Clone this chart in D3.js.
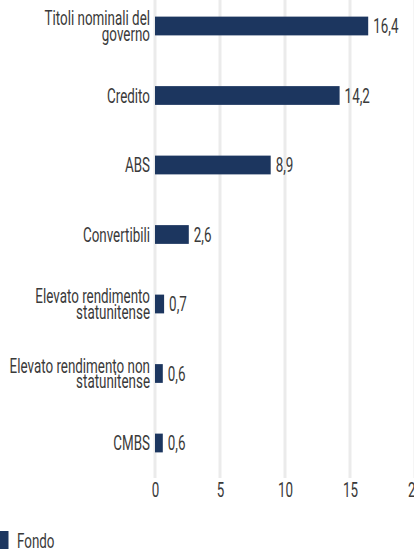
<!DOCTYPE html>
<html>
<head>
<meta charset="utf-8">
<script src="https://cdn.jsdelivr.net/npm/d3@7"></script>
<style>
  html, body { margin: 0; padding: 0; background: #fff; overflow: hidden; }
  text { font-family: "Roboto", "DejaVu Sans Condensed", sans-serif; font-weight: 400; fill: #3a3a3a; }
</style>
</head>
<body>
<div id="chart"></div>
<script>
const CATEGORIES = [
  ['Titoli nominali del', 'governo'],
  ['Credito'],
  ['ABS'],
  ['Convertibili'],
  ['Elevato rendimento', 'statunitense'],
  ['Elevato rendimento non', 'statunitense'],
  ['CMBS']
];
const FONDO = [16.4, 14.2, 8.9, 2.6, 0.7, 0.6, 0.6];
const X_TICKS = [0, 5, 10, 15, 20];
const SERIES_NAME = 'Fondo';

const WIDTH = 414;
const HEIGHT = 552;
const BAR_COLOR = '#1c365f';
const GRID_COLOR = '#ebebeb';
const FONT_SIZE = 20;
const SX = 0.67; // horizontal squeeze to mimic a condensed face

const svg = d3.select('#chart')
  .append('svg')
    .attr('width', WIDTH)
    .attr('height', HEIGHT);

const x = d3.scaleLinear()
  .domain([0, 20])
  .range([155, 415]);

const y = d3.scaleBand()
  .domain(d3.range(CATEGORIES.length))
  .range([-8.75, 477.75])
  .paddingInner(0.73)
  .paddingOuter(0.365);

// grid
svg.append('g')
  .selectAll('line')
  .data(X_TICKS)
  .enter()
  .append('line')
    .attr('x1', d => x(d))
    .attr('x2', d => x(d))
    .attr('y1', 0)
    .attr('y2', 478)
    .attr('stroke', GRID_COLOR)
    .attr('stroke-width', 3);

// x axis labels
const xAxisCall = d3.axisBottom(x).tickValues(X_TICKS).tickSize(0).tickPadding(0);
const xAxisGroup = svg.append('g')
  .attr('transform', 'translate(0, 483)')
  .call(xAxisCall);
xAxisGroup.select('.domain').remove();
xAxisGroup.selectAll('text')
  .attr('dy', '0.71em')
  .attr('transform', `scale(${SX},1)`)
  .attr('font-family', null)
  .attr('fill', null)
  .style('font-size', FONT_SIZE + 'px');

// bars
svg.append('g')
  .selectAll('rect')
  .data(FONDO)
  .enter()
  .append('rect')
    .attr('x', x(0))
    .attr('y', (d, i) => y(i))
    .attr('width', d => x(d) - x(0))
    .attr('height', y.bandwidth())
    .attr('fill', BAR_COLOR);

// value labels
svg.append('g')
  .selectAll('text')
  .data(FONDO)
  .enter()
  .append('text')
    .attr('transform', (d, i) => `translate(${x(d) + 5},${y(i) + y.bandwidth() / 2}) scale(${SX},1)`)
    .attr('dy', '0.36em')
    .style('font-size', FONT_SIZE + 'px')
    .text(d => d3.format('.1f')(d).replace('.', ','));

// category labels
const LINE_H = 15.5;
const labels = svg.append('g')
  .selectAll('text')
  .data(CATEGORIES)
  .enter()
  .append('text')
    .attr('text-anchor', 'end')
    .style('font-size', FONT_SIZE + 'px')
    .attr('transform', (d, i) => `translate(150,${y(i) + y.bandwidth() / 2 - (d.length - 1) * LINE_H / 2}) scale(${SX},1)`);

labels.selectAll('tspan')
  .data(d => d)
  .enter()
  .append('tspan')
    .attr('x', 0)
    .attr('dy', (d, i) => i === 0 ? '0.36em' : LINE_H)
    .text(d => d);

// legend
svg.append('rect')
  .attr('x', 0)
  .attr('y', 531)
  .attr('width', 8.5)
  .attr('height', 18)
  .attr('fill', BAR_COLOR);

svg.append('text')
  .attr('transform', `translate(17,548) scale(${SX},1)`)
  .style('font-size', FONT_SIZE + 'px')
  .text(SERIES_NAME);
</script>
</body>
</html>
